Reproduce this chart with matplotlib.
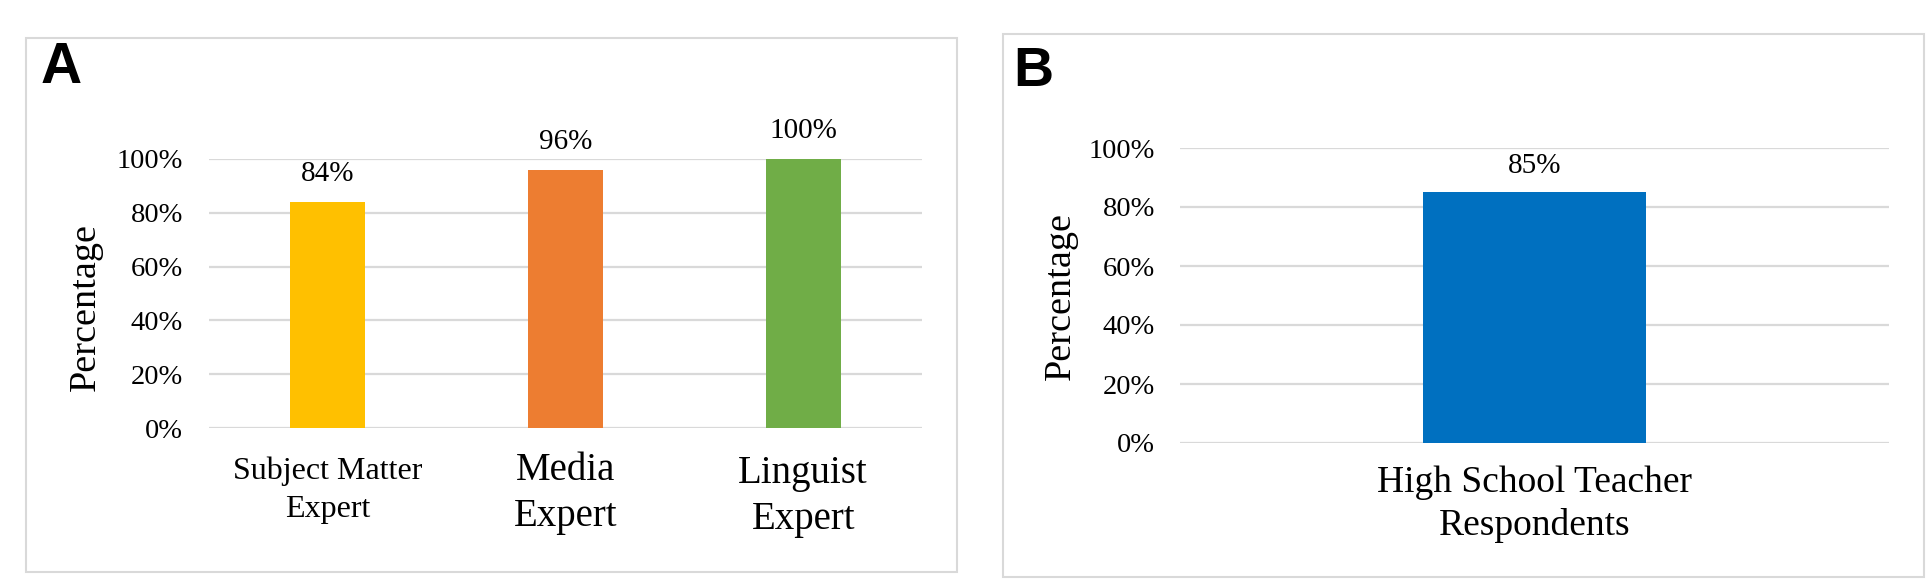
import matplotlib.pyplot as plt
from matplotlib.patches import Rectangle

# panel A data
cats_a = ["Subject Matter\nExpert", "Media\nExpert", "Linguist\nExpert"]
vals_a = [0.84, 0.96, 1.00]
cols_a = ["#FFC000", "#ED7D31", "#70AD47"]

# panel B data
cats_b = ["High School Teacher\nRespondents"]
vals_b = [0.85]
cols_b = ["#0070C0"]

yticks = [0, 0.2, 0.4, 0.6, 0.8, 1.0]
ytick_labels = ["0%", "20%", "40%", "60%", "80%", "100%"]

serif = "Liberation Serif"
grid_col = "#d9d9d9"
W, H = 1929, 579

fig = plt.figure(figsize=(W / 100, H / 100), dpi=100)


def px_box(x0, y0, x1, y1):
    # pixel box (top-left origin) -> figure fraction rect
    return [x0 / W, 1 - y1 / H, (x1 - x0) / W, (y1 - y0) / H]


# panel frames
for x0, y0, x1, y1 in [(26, 38, 957, 572), (1003, 34, 1924, 577)]:
    r = px_box(x0, y0, x1, y1)
    fig.patches.append(Rectangle((r[0], r[1]), r[2], r[3], transform=fig.transFigure,
                                 fill=False, edgecolor=grid_col, linewidth=1.5))


def style_axis(ax, pad):
    ax.set_ylim(0, 1)
    ax.set_yticks(yticks)
    ax.set_yticklabels(ytick_labels, fontfamily=serif, fontsize=20.5)
    ax.tick_params(axis="y", length=0, pad=pad)
    ax.set_xticks([])
    for s in ax.spines.values():
        s.set_visible(False)
    ax.grid(axis="y", color=grid_col, linewidth=1.6)
    ax.set_axisbelow(True)


def cat_label(ax, x, text, size, off, ls):
    ax.annotate(text, (x, 0), xycoords=("data", "axes fraction"), xytext=(0, -off),
                textcoords="offset points", ha="center", va="top", fontfamily=serif,
                fontsize=size, linespacing=ls, annotation_clip=False)


# Panel A
axA = fig.add_axes(px_box(209, 159, 922, 428))
xa = list(range(len(cats_a)))
axA.bar(xa, vals_a, width=0.315, color=cols_a, zorder=2)
axA.set_xlim(-0.5, 2.5)
style_axis(axA, 18.7)
cat_label(axA, 0, cats_a[0], 23, 20.5, 1.4)
cat_label(axA, 1, cats_a[1], 28, 17, 1.33)
cat_label(axA, 2, cats_a[2], 28, 19.5, 1.33)
for x, v in zip(xa, vals_a):
    axA.annotate(f"{round(v*100)}%", (x, v), xytext=(0, 15), textcoords="offset points",
                 ha="center", va="baseline", fontfamily=serif, fontsize=21,
                 annotation_clip=False)

fig.text(86 / W, 1 - 307 / H, "Percentage", rotation=90, ha="center", va="center",
         fontfamily=serif, fontsize=27.5)
fig.text(41 / W, 1 - 83 / H, "A", ha="left", va="baseline", fontfamily="Liberation Sans",
         fontweight="bold", fontsize=41)

# Panel B
axB = fig.add_axes(px_box(1180, 148, 1889, 443))
xb = list(range(len(cats_b)))
axB.bar(xb, vals_b, width=0.315, color=cols_b, zorder=2)
axB.set_xlim(-0.5, 0.5)
style_axis(axB, 18)
cat_label(axB, 0, cats_b[0], 27, 16, 1.3)
for x, v in zip(xb, vals_b):
    axB.annotate(f"{round(v*100)}%", (x, v), xytext=(0, 13.7), textcoords="offset points",
                 ha="center", va="baseline", fontfamily=serif, fontsize=21,
                 annotation_clip=False)

fig.text(1061 / W, 1 - 296 / H, "Percentage", rotation=90, ha="center", va="center",
         fontfamily=serif, fontsize=27.5)
fig.text(1013 / W, 1 - 86 / H, "B", ha="left", va="baseline", fontfamily="Liberation Sans",
         fontweight="bold", fontsize=40)

fig.savefig("out.png", dpi=100)
